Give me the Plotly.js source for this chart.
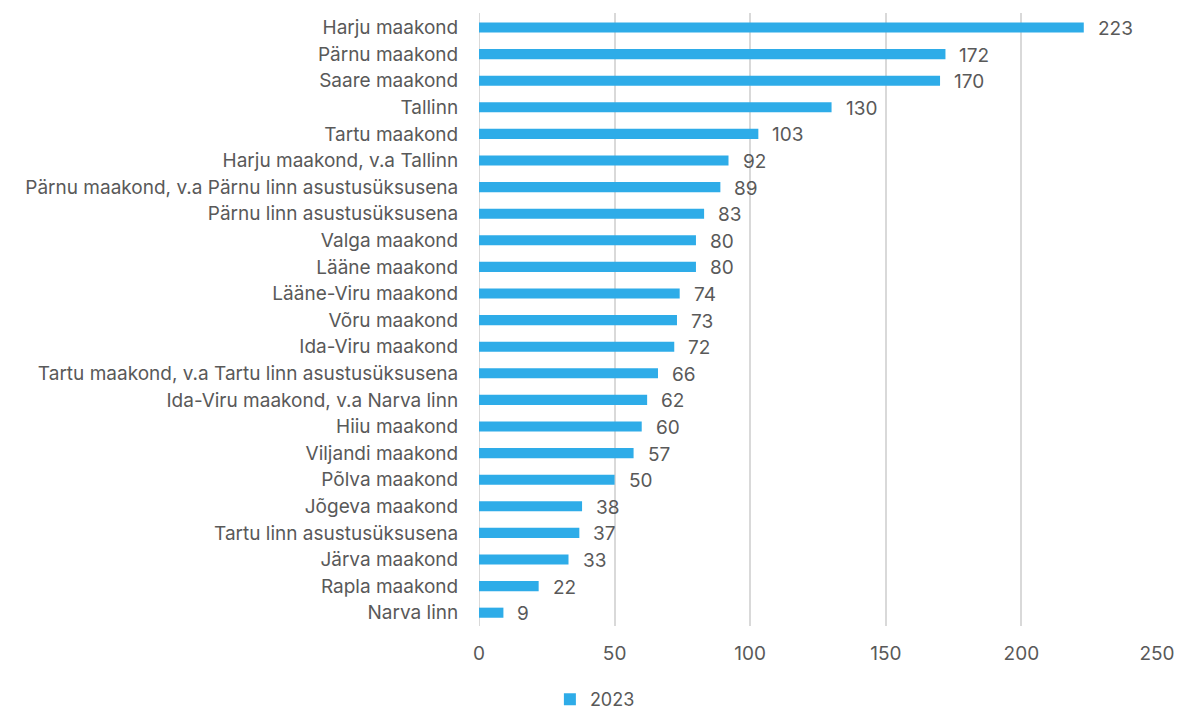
<!DOCTYPE html>
<html>
<head>
<meta charset="utf-8">
<script src="https://cdn.plot.ly/plotly-3.0.1.min.js"></script>
<style>html,body{margin:0;padding:0;background:#fff;}#chart{width:1178px;height:711px;}</style>
</head>
<body>
<div id="chart"></div>
<script>
const categories = [
  "Harju maakond",
  "Pärnu maakond",
  "Saare maakond",
  "Tallinn",
  "Tartu maakond",
  "Harju maakond, v.a Tallinn",
  "Pärnu maakond, v.a Pärnu linn asustusüksusena",
  "Pärnu linn asustusüksusena",
  "Valga maakond",
  "Lääne maakond",
  "Lääne-Viru maakond",
  "Võru maakond",
  "Ida-Viru maakond",
  "Tartu maakond, v.a Tartu linn asustusüksusena",
  "Ida-Viru maakond, v.a Narva linn",
  "Hiiu maakond",
  "Viljandi maakond",
  "Põlva maakond",
  "Jõgeva maakond",
  "Tartu linn asustusüksusena",
  "Järva maakond",
  "Rapla maakond",
  "Narva linn"
];
const values2023 = [223,172,170,130,103,92,89,83,80,80,74,73,72,66,62,60,57,50,38,37,33,22,9];
const seriesName = "2023";
const xTicks = [0,50,100,150,200,250];

const fontFamily = "Inter, 'Open Sans', sans-serif";
const fontSize = 19;
const barColor = "#2EACE8";
const textColor = "#595959";

const trace = {
  type: "bar",
  orientation: "h",
  x: values2023,
  y: categories,
  name: seriesName,
  marker: {color: barColor},
  width: 0.38,
  hoverinfo: "x+y",
  showlegend: true
};

const annotations = values2023.map((v, i) => ({
  x: v, y: categories[i], xref: "x", yref: "y",
  text: String(v), showarrow: false, xanchor: "left", yanchor: "middle",
  xshift: 12, yshift: -1,
  font: {family: fontFamily, size: fontSize, color: textColor}
}));

const layout = {
  width: 1178, height: 711,
  margin: {l: 479, r: 21, t: 13, b: 85, autoexpand: false},
  paper_bgcolor: "#ffffff",
  plot_bgcolor: "#ffffff",
  font: {family: fontFamily, size: fontSize, color: textColor},
  xaxis: {
    range: [0, 250],
    tickvals: xTicks,
    ticktext: xTicks.map(String),
    showgrid: true,
    gridcolor: "#d9d9d9",
    gridwidth: 2,
    zeroline: false,
    showline: false,
    ticks: "outside",
    ticklen: 10,
    tickcolor: "rgba(0,0,0,0)",
    tickfont: {family: fontFamily, size: fontSize, color: textColor},
    fixedrange: true
  },
  yaxis: {
    type: "category",
    autorange: "reversed",
    showgrid: false,
    zeroline: false,
    showline: false,
    ticks: "outside",
    ticklen: 16,
    tickcolor: "rgba(0,0,0,0)",
    tickfont: {family: fontFamily, size: fontSize, color: textColor}
  },
  shapes: [{
    type: "line", xref: "x", yref: "paper", x0: 0, x1: 0, y0: 0, y1: 1,
    line: {color: "#d9d9d9", width: 2}, layer: "below"
  }],
  legend: {
    orientation: "h",
    xref: "container", yref: "paper",
    x: 0.505, xanchor: "center",
    y: -0.12, yanchor: "middle",
    font: {family: fontFamily, size: 18, color: textColor},
    itemwidth: 30
  },
  annotations: annotations,
  bargap: 0.62
};

Plotly.newPlot("chart", [trace], layout, {displayModeBar: false, staticPlot: true});
</script>
</body>
</html>
